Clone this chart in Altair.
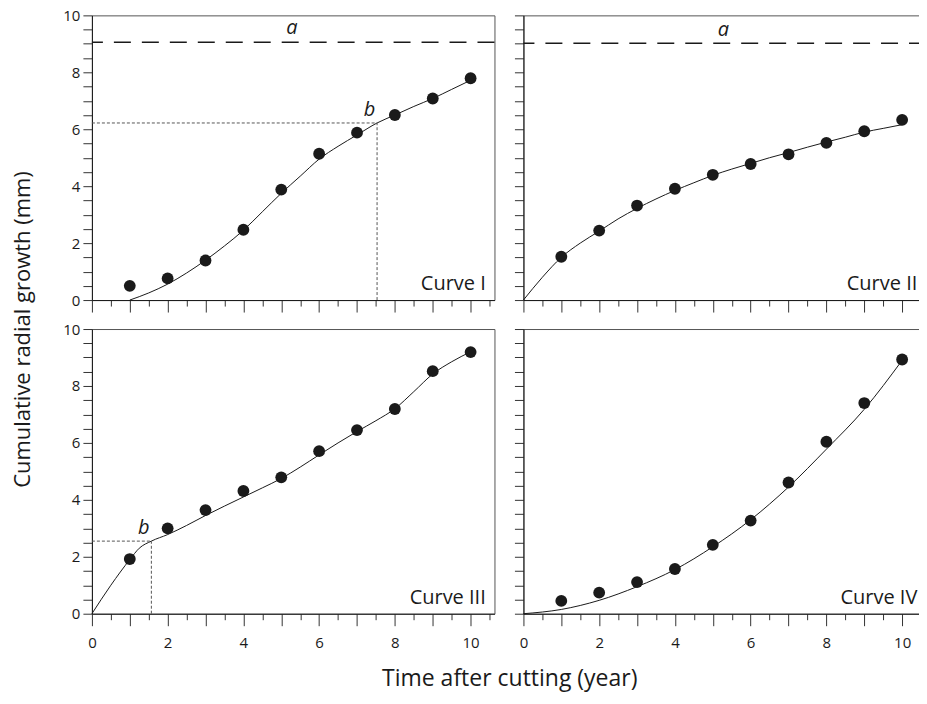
import altair as alt
import pandas as pd

FONT = "Open Sans"
INK = "#1a1a1a"

# ---- data ----
years = [1, 2, 3, 4, 5, 6, 7, 8, 9, 10]
obs_I = [0.50, 0.76, 1.39, 2.47, 3.88, 5.14, 5.88, 6.50, 7.08, 7.79]
obs_II = [1.52, 2.44, 3.32, 3.91, 4.40, 4.78, 5.12, 5.52, 5.93, 6.33]
obs_III = [1.92, 3.00, 3.64, 4.31, 4.79, 5.71, 6.45, 7.19, 8.52, 9.19]
obs_IV = [0.45, 0.74, 1.11, 1.57, 2.42, 3.27, 4.61, 6.04, 7.40, 8.93]

fit_I_x = [1, 1.5, 2, 2.5, 3, 3.5, 4, 4.5, 5, 5.5, 6, 6.5, 7, 7.53, 8, 8.5, 9, 9.5, 10]
fit_I_y = [0, 0.25, 0.56, 0.95, 1.40, 1.90, 2.45, 3.10, 3.75, 4.35, 4.95, 5.40, 5.80, 6.22, 6.50, 6.80, 7.08, 7.40, 7.72]

fit_II_x = [0, 0.5, 1, 1.5, 2, 2.5, 3, 3.5, 4, 4.5, 5, 5.5, 6, 6.5, 7, 7.5, 8, 8.5, 9, 9.5, 10]
fit_II_y = [0, 0.80, 1.50, 2.00, 2.42, 2.85, 3.22, 3.55, 3.85, 4.12, 4.38, 4.60, 4.80, 5.00, 5.18, 5.37, 5.55, 5.72, 5.90, 6.03, 6.16]

fit_III_x = [0, 0.5, 1, 1.25, 1.57, 2, 2.5, 3, 3.5, 4, 4.5, 5, 5.5, 6, 6.5, 7, 7.5, 8, 8.5, 9, 9.5, 10]
fit_III_y = [0, 1.00, 1.90, 2.30, 2.55, 2.78, 3.10, 3.45, 3.78, 4.10, 4.42, 4.75, 5.15, 5.58, 6.00, 6.40, 6.78, 7.20, 7.80, 8.42, 8.85, 9.20]

fit_IV_x = [0, 1, 2, 3, 4, 5, 6, 7, 8, 9, 10]
fit_IV_y = [0, 0.15, 0.47, 0.95, 1.55, 2.35, 3.30, 4.45, 5.78, 7.18, 8.90]

asymptote_I = 9.06
asymptote_II = 9.02
b_I = (7.53, 6.22)
b_III = (1.57, 2.55)
curve_names = ["Curve I", "Curve II", "Curve III", "Curve IV"]

x_tick_values = [i * 0.5 for i in range(22)]
y_tick_values = [i * 0.5 for i in range(21)]

xs = alt.Scale(domain=[0, 10.63], nice=False, zero=False)
ys = alt.Scale(domain=[0, 10], nice=False, zero=False)

W, H = 403, 285


def make_axes(show_x_labels, show_y_labels):
    xaxis = alt.Axis(
        values=x_tick_values,
        tickSize={"condition": {"test": "datum.value % 1 === 0", "value": 12}, "value": 6},
        labels=show_x_labels,
        labelExpr="datum.value % 2 === 0 ? format(datum.value, 'd') : ''",
        labelPadding=10,
        labelOverlap=False,
        labelFlush=False,
        grid=False,
        domainColor=INK,
    )
    yaxis = alt.Axis(
        values=y_tick_values,
        tickSize=9,
        labels=show_y_labels,
        labelExpr="datum.value % 2 === 0 ? format(datum.value, 'd') : ''",
        labelPadding=3,
        labelOverlap=False,
        labelFlush=False,
        grid=False,
        domainColor=INK,
    )
    return xaxis, yaxis


def panel(name, obs, fx, fy, a_y, b, show_x_labels, show_y_labels):
    xaxis, yaxis = make_axes(show_x_labels, show_y_labels)

    def X(f):
        return alt.X(f, type="quantitative", scale=xs, axis=xaxis, title=None)

    def Y(f):
        return alt.Y(f, type="quantitative", scale=ys, axis=yaxis, title=None)

    fit_df = pd.DataFrame({"x": fx, "y": fy})
    obs_df = pd.DataFrame({"x": years, "y": obs})

    layers = [
        alt.Chart(fit_df).mark_line(color=INK, strokeWidth=1, interpolate="monotone")
        .encode(x=X("x"), y=Y("y")),
        alt.Chart(obs_df).mark_circle(size=140, color=INK, opacity=1)
        .encode(x=X("x"), y=Y("y")),
    ]
    if a_y is not None:
        layers.append(
            alt.Chart(pd.DataFrame({"y": [a_y]}))
            .mark_rule(color=INK, strokeWidth=1.5, strokeDash=[17, 11])
            .encode(y=Y("y"))
        )
        layers.append(
            alt.Chart(pd.DataFrame({"x": [5.28], "y": [a_y + 0.27], "t": ["a"]}))
            .mark_text(font=FONT, fontSize=20, fontStyle="italic", color=INK,
                       align="center", baseline="alphabetic")
            .encode(x=X("x"), y=Y("y"), text="t:N")
        )
    if b is not None:
        bx, by = b
        seg = pd.DataFrame({"x": [0, bx], "y": [by, 0], "x2": [bx, bx], "y2": [by, by]})
        layers.append(
            alt.Chart(seg).mark_rule(color="#555555", strokeWidth=1, strokeDash=[3, 2])
            .encode(x=X("x"), y=Y("y"), x2="x2:Q", y2="y2:Q")
        )
        layers.append(
            alt.Chart(pd.DataFrame({"x": [bx - 0.2], "y": [by + 0.25], "t": ["b"]}))
            .mark_text(font=FONT, fontSize=20, fontStyle="italic", color=INK,
                       align="center", baseline="alphabetic")
            .encode(x=X("x"), y=Y("y"), text="t:N")
        )
    layers.append(
        alt.Chart(pd.DataFrame({"x": [10.40], "y": [0.35], "t": [name]}))
        .mark_text(font=FONT, fontSize=20, color=INK, align="right", baseline="alphabetic")
        .encode(x=X("x"), y=Y("y"), text="t:N")
    )
    return alt.layer(*layers).properties(width=W, height=H)


p1 = panel(curve_names[0], obs_I, fit_I_x, fit_I_y, asymptote_I, b_I, False, True)
p2 = panel(curve_names[1], obs_II, fit_II_x, fit_II_y, asymptote_II, None, False, False)
p3 = panel(curve_names[2], obs_III, fit_III_x, fit_III_y, None, b_III, True, True)
p4 = panel(curve_names[3], obs_IV, fit_IV_x, fit_IV_y, None, None, True, False)

grid = alt.concat(p1, p2, p3, p4, columns=2, spacing=29, bounds="flush").properties(
    title=alt.TitleParams(
        "Cumulative radial growth (mm)", orient="left", anchor="middle",
        font=FONT, fontSize=22, fontWeight="normal", color=INK, offset=27,
    )
)

chart = alt.vconcat(grid).properties(
    title=alt.TitleParams(
        "Time after cutting (year)", orient="bottom", anchor="middle",
        font=FONT, fontSize=23, fontWeight="normal", color=INK, offset=17, dx=40,
    ),
    padding={"left": 4, "top": -1, "right": -9, "bottom": 0},
).configure_view(
    stroke="#555555", strokeWidth=1
).configure_axis(
    labelFont=FONT, labelFontSize=15, labelColor=INK, tickColor="#333333", tickWidth=1,
    domainWidth=1,
)

chart.save("out.html", embed_options={"renderer": "svg", "actions": False})
